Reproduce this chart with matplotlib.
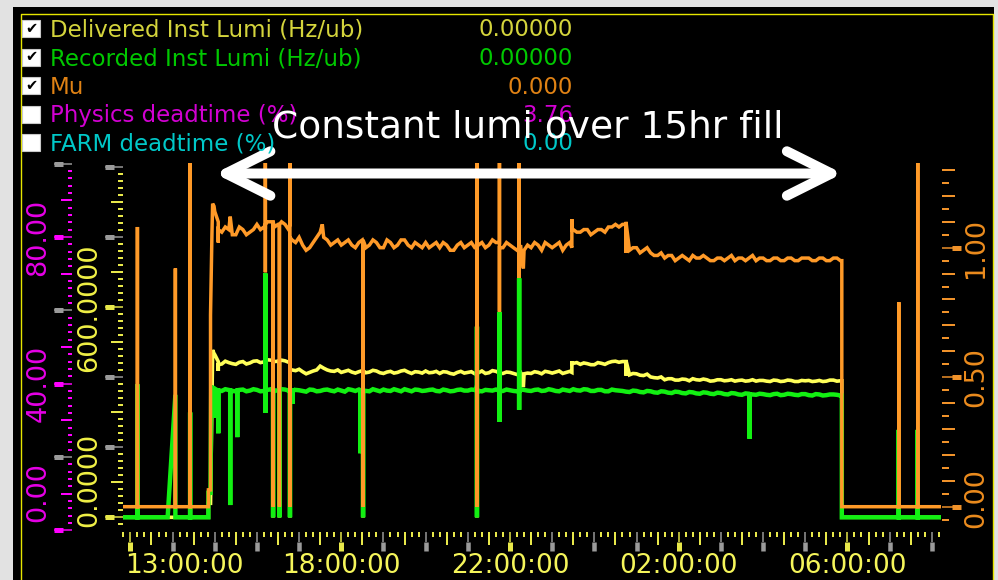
import numpy as np
import matplotlib
matplotlib.use("Agg")
import matplotlib.pyplot as plt
from matplotlib.patches import Rectangle
from matplotlib.transforms import blended_transform_factory

# ---------------- data ----------------
fill_start = "15:00"      # first regular sample of the fill (on the hour/10 min)
fill_mid_start = "15:05"  # interleaved readings 5 min later
fill_step_min = 10

mu_fill = [
    1.14, 1.06, 1.07, 1.05, 1.07, 1.06,
    1.09, 1.08, 1.10, 1.09, 1.09, 1.03,
    1.04, 0.99, 1.02, 1.06, 1.03, 1.02,
    1.01, 1.03, 1.00, 1.03, 1.01, 1.02,
    1.00, 1.02, 1.01, 1.03, 1.00, 1.01,
    1.02, 1.01, 1.00, 1.01, 0.99, 1.02,
    1.01, 1.00, 1.02, 1.01, 1.02, 1.00,
    1.01, 0.99, 0.99, 1.00, 1.01, 1.02,
    1.00, 1.02, 1.01, 1.07, 1.06, 1.07,
    1.06, 1.07, 1.08, 1.09, 1.09, 0.99,
    1.00, 0.99, 0.98, 0.97, 0.96, 0.97,
    0.96, 0.96, 0.97, 0.96, 0.96, 0.95,
    0.96, 0.96, 0.95, 0.96, 0.96, 0.95,
    0.96, 0.95, 0.96, 0.95, 0.96, 0.95,
    0.96, 0.95, 0.96, 0.95, 0.96, 0.95,
]
mu_mid = [
    1.07, 1.08, 1.05, 1.08, 1.05, 1.07,
    1.07, 1.10, 1.08, 1.10, 1.07, 1.02,
    1.01, 1.00, 1.04, 1.04, 1.01, 1.03,
    1.02, 1.01, 1.02, 1.00, 1.03, 1.00,
    1.03, 1.00, 1.03, 1.01, 1.02, 1.00,
    1.00, 1.02, 1.02, 0.99, 1.01, 1.00,
    1.02, 1.01, 1.00, 1.03, 1.00, 1.02,
    1.00, 1.01, 1.01, 1.02, 0.99, 1.01,
    1.01, 0.99, 1.02, 1.06, 1.07, 1.05,
    1.07, 1.06, 1.08, 1.08, 1.10, 1.00,
    0.98, 1.00, 0.97, 0.98, 0.97, 0.95,
    0.97, 0.95, 0.96, 0.97, 0.95, 0.96,
    0.95, 0.97, 0.96, 0.95, 0.97, 0.96,
    0.95, 0.96, 0.95, 0.96, 0.95, 0.96,
    0.96, 0.95, 0.96, 0.95, 0.96,
]
delivered_fill = [
    465, 438, 442, 437, 445, 441,
    447, 444, 449, 446, 447, 421,
    423, 410, 418, 432, 421, 417,
    414, 420, 412, 419, 415, 418,
    411, 417, 414, 420, 411, 415,
    418, 414, 411, 415, 409, 417,
    414, 410, 418, 413, 417, 411,
    414, 408, 410, 411, 414, 417,
    412, 418, 414, 440, 437, 439,
    436, 440, 442, 446, 445, 407,
    410, 405, 401, 398, 393, 396,
    392, 394, 396, 392, 393, 390,
    393, 391, 389, 392, 390, 389,
    391, 388, 391, 389, 391, 388,
    390, 388, 391, 389, 392, 390,
]
delivered_mid = [
    436, 446, 439, 443, 438, 446,
    442, 450, 445, 449, 443, 419,
    416, 414, 421, 426, 418, 421,
    417, 415, 416, 413, 420, 413,
    415, 412, 418, 415, 416, 412,
    413, 417, 416, 411, 414, 412,
    416, 413, 411, 419, 412, 415,
    411, 413, 412, 416, 410, 415,
    415, 411, 417, 442, 441, 436,
    442, 437, 445, 443, 448, 411,
    406, 409, 399, 401, 396, 392,
    395, 390, 393, 395, 389, 393,
    390, 393, 391, 389, 393, 391,
    389, 392, 388, 392, 388, 391,
    391, 389, 388, 392, 389,
]
recorded_fill = [
    366, 361, 364, 360, 365, 362,
    364, 361, 366, 363, 365, 360,
    363, 359, 364, 361, 365, 360,
    362, 366, 361, 364, 360, 363,
    365, 361, 363, 366, 360, 364,
    362, 365, 360, 363, 361, 365,
    362, 364, 360, 363, 365, 361,
    363, 360, 364, 361, 365, 362,
    364, 360, 363, 366, 362, 365,
    361, 364, 360, 363, 361, 358,
    361, 357, 360, 356, 359, 355,
    358, 354, 357, 353, 356, 352,
    355, 351, 354, 350, 353, 350,
    352, 349, 353, 350, 352, 349,
    352, 348, 351, 349, 351, 348,
]
recorded_mid = [
    363, 366, 361, 364, 360, 366,
    360, 364, 361, 366, 362, 364,
    361, 365, 360, 364, 362, 365,
    359, 364, 365, 361, 366, 360,
    362, 366, 360, 363, 365, 361,
    364, 361, 365, 360, 364, 362,
    365, 361, 364, 362, 360, 365,
    361, 365, 362, 364, 361, 366,
    361, 365, 361, 363, 366, 361,
    364, 360, 365, 362, 359, 362,
    358, 361, 357, 360, 356, 359,
    355, 358, 354, 357, 353, 356,
    352, 355, 351, 354, 351, 353,
    350, 352, 349, 353, 350, 352,
    349, 352, 348, 351, 350,
]

# irregular readings (before / after the fill, spikes and drop-outs)
mu_events = [
    ("12:50", [0.0]), ("13:10", [0.0, 1.08, 0.0]), ("14:04", [0.0, 0.92, 0.0]),
    ("14:25", [0.0, 1.40, 0.0]), ("14:51", [0.0, 0.065]), ("14:54", [0.065, 0.74]),
    ("14:56", [1.05]), ("14:57", [1.17]), ("14:59", [1.16]),
    ("15:05", [1.10, 1.02]), ("15:22", [1.12]),
    ("16:12", [1.08, 1.40, 0.905, 1.09]), ("16:23", [1.10, 0.0, 1.10]),
    ("16:32", [1.09, 0.0, 1.09]), ("16:47", [1.09, 1.40, 0.0, 1.04]),
    ("17:33", [1.09]), ("18:31", [1.02, 0.0, 1.03]),
    ("21:13", [1.00, 1.40, 0.0, 1.01]), ("21:45", [1.02, 1.40, 0.753, 1.01]),
    ("22:13", [1.00, 1.40, 0.883, 0.99]), ("22:19", [0.92]),
    ("23:28", [1.00, 1.11, 1.07]), ("00:45", [1.09, 0.98]),
    ("05:52", [0.95, 0.0]),
    ("07:13", [0.0, 0.79, 0.0]), ("07:40", [0.0, 1.40, 0.0]), ("08:13", [0.0]),
]
delivered_events = [
    ("12:50", [0]), ("14:51", [0, 40]), ("14:54", [40]), ("14:57", [478]), ("14:59", [468]),
    ("15:05", [445, 418]), ("16:23", [448, 0, 447]), ("16:32", [446, 0, 447]),
    ("16:47", [447, 0, 423]), ("18:31", [418, 0, 419]), ("21:13", [410, 0, 412]),
    ("22:19", [372]), ("23:28", [414, 446, 440]), ("00:45", [445, 405]),
    ("05:52", [390, 0]), ("08:13", [0]),
]
recorded_events = [
    ("12:50", [0]), ("13:10", [0, 380, 0]), ("13:53", [0]), ("14:04", [350, 0]),
    ("14:25", [0, 300, 0]), ("14:51", [0, 70]), ("14:54", [70]), ("14:55", [372]),
    ("14:58", [370, 284, 368]),
    ("15:05", [362, 240]), ("15:22", [363, 35, 362]), ("15:32", [361, 229, 363]),
    ("16:12", [363, 697, 298, 362]), ("16:23", [364, 0, 363]), ("16:32", [363, 0, 364]),
    ("16:47", [362, 0, 361]), ("16:51", [361, 325, 362]),
    ("18:27", [362, 183, 363]), ("18:31", [363, 0, 362]),
    ("21:13", [362, 545, 0, 364]), ("21:45", [362, 587, 273, 363]),
    ("22:13", [361, 683, 307, 362]), ("03:41", [352, 224, 351]),
    ("05:52", [348, 0]), ("07:13", [0, 250, 0]), ("07:40", [0, 250, 0]), ("08:13", [0]),
]

legend_names = ["Delivered Inst Lumi (Hz/ub)", "Recorded Inst Lumi (Hz/ub)", "Mu",
                "Physics deadtime (%)", "FARM deadtime (%)"]
legend_values = ["0.00000", "0.00000", "0.000", "3.76", "0.00"]
legend_checked = [True, True, True, False, False]
legend_colors = ["#d4d43c", "#00c800", "#e08214", "#d200d2", "#00c8c8"]

time_ticks = ["13:00", "18:00", "22:00", "02:00", "06:00"]
time_labels = ["13:00:00", "18:00:00", "22:00:00", "02:00:00", "06:00:00"]
lumi_ticks, lumi_labels = [0, 600], ["0.0000", "600.0000"]
dead_ticks, dead_labels = [0, 40, 80], ["0.00", "40.00", "80.00"]
mu_ticks, mu_labels = [0.0, 0.5, 1.0], ["0.00", "0.50", "1.00"]
note_text = "Constant lumi over 15hr fill"
fill_span = ("15:00", "05:53")


# ---------------- helpers ----------------
def to_min(s):
    h, m = map(int, s.split(":"))
    v = h * 60 + m
    return v + 1440 if h < 12 else v


def build(grids, events):
    pts = []
    for start, vals in grids:
        t0 = to_min(start)
        for i, v in enumerate(vals):
            pts.append((t0 + i * fill_step_min, 1, 0, v))
    for s, vals in events:
        t = to_min(s)
        for j, v in enumerate(vals):
            pts.append((t, 0, j, v))
    pts.sort(key=lambda p: (p[0], p[1], p[2]))
    return np.array([p[0] for p in pts], float), np.array([p[3] for p in pts], float)


W, H = 998, 580
PT = 72.0 / 100.0


def fx(px):
    return px / W


def fy(py):
    return 1 - py / H


fig = plt.figure(figsize=(W / 100, H / 100), dpi=100, facecolor="#e2e2e2")

# black panel and yellow frame
fig.add_artist(Rectangle((fx(12.7), 0), fx(994) - fx(12.7), fy(6.7), transform=fig.transFigure,
                         facecolor="black", edgecolor="none", zorder=-10))
fig.add_artist(plt.Line2D([fx(20.7), fx(20.7), fx(992.7), fx(992.7)], [0, fy(14), fy(14), 0],
                          transform=fig.transFigure, color="#e6e600", lw=1.0, zorder=-9))

L, R, T, B = 123, 941, 163, 531
rect = [fx(L), fy(B), (R - L) / W, (B - T) / H]
XLIM = (769.5, 1933.1)
LUMI_LIM = (-39.14, 1012.3)
MU_LIM = (-0.0938, 1.327)
DEAD_LIM = (-0.19, 100.2)

ax = fig.add_axes(rect)
ax.set_facecolor("none")
axm = ax.twinx()
for a in (ax, axm):
    a.set_xlim(*XLIM)
    a.tick_params(left=False, right=False, bottom=False, top=False,
                  labelleft=False, labelright=False, labelbottom=False)
    for s in a.spines.values():
        s.set_visible(False)
ax.set_ylim(*LUMI_LIM)
axm.set_ylim(*MU_LIM)

tD, vD = build([(fill_start, delivered_fill), (fill_mid_start, delivered_mid)], delivered_events)
tR, vR = build([(fill_start, recorded_fill), (fill_mid_start, recorded_mid)], recorded_events)
tM, vM = build([(fill_start, mu_fill), (fill_mid_start, mu_mid)], mu_events)
ax.plot(tD, vD, color="#ffff5a", lw=2.6, solid_joinstyle="miter")
ax.plot(tR, vR, color="#12f012", lw=3.2, solid_joinstyle="miter")
axm.plot(tM, vM, color="#ff9a28", lw=2.5, solid_joinstyle="miter")


# ---------------- tick layers ----------------
def tick_layer(axis, side, lim, locs, offset_px, length_px, width_px, color):
    a = fig.add_axes(rect, zorder=1)
    a.patch.set_visible(False)
    for s in a.spines.values():
        s.set_visible(False)
    if axis == "y":
        a.set_xticks([])
        a.set_yticks(locs)
        a.set_ylim(*lim)
        a.set_xlim(*XLIM)
        a.yaxis.set_ticks_position(side)
        a.spines[side].set_position(("outward", offset_px * PT))
        a.tick_params(axis="y", direction="out", length=length_px * PT, width=width_px * PT,
                      color=color, labelleft=False, labelright=False)
    else:
        a.set_yticks([])
        a.set_xticks(locs)
        a.set_xlim(*lim)
        a.xaxis.set_ticks_position("bottom")
        a.spines["bottom"].set_position(("outward", offset_px * PT))
        a.tick_params(axis="x", direction="out", length=length_px * PT, width=width_px * PT,
                      color=color, labelbottom=False)
    return a


YEL, GRY, MAG, ORG = "#e8e84a", "#9a9a9a", "#ff00ff", "#f0922a"

# yellow (lumi) axis at plot left edge
tick_layer("y", "left", LUMI_LIM, [v for v in range(-20, 1001, 20) if v % 100 != 0], 0, 5, 2, YEL)
tick_layer("y", "left", LUMI_LIM, [100, 300, 500, 700, 900], 0, 12, 2, YEL)
tick_layer("y", "left", LUMI_LIM, [200, 400, 800, 1000], 0, 18, 1.5, GRY)
tick_layer("y", "left", LUMI_LIM, [200, 400, 800, 1000], 9, 9, 5, GRY)
tick_layer("y", "left", LUMI_LIM, lumi_ticks, 0, 18, 1.5, YEL)
tick_layer("y", "left", LUMI_LIM, lumi_ticks, 9, 9, 5, YEL)

# magenta (deadtime) axis further left
MO = 51.3
tick_layer("y", "left", DEAD_LIM, [v for v in range(0, 101, 2) if v % 10 != 0], MO, 4, 2, MAG)
tick_layer("y", "left", DEAD_LIM, [10, 30, 50, 70, 90], MO, 11, 2, MAG)
tick_layer("y", "left", DEAD_LIM, [20, 60, 100], MO, 18, 1.5, GRY)
tick_layer("y", "left", DEAD_LIM, [20, 60, 100], MO + 9, 9, 5, GRY)
tick_layer("y", "left", DEAD_LIM, dead_ticks, MO, 18, 1.5, MAG)
tick_layer("y", "left", DEAD_LIM, dead_ticks, MO + 9, 9, 5, MAG)

# orange (mu) axis on the right
tick_layer("y", "right", MU_LIM, [k * 0.05 for k in range(-1, 27) if k % 2 != 0], 0.7, 6.6, 2, ORG)
tick_layer("y", "right", MU_LIM, [k * 0.1 for k in range(0, 14) if k not in (0, 5, 10)], 0.7, 13.3, 2, ORG)
tick_layer("y", "right", MU_LIM, mu_ticks, 0.7, 19, 1.5, ORG)
tick_layer("y", "right", MU_LIM, mu_ticks, 10.7, 9, 5, ORG)

# time axis
lab_min = [to_min(s) for s in time_ticks]
tick_layer("x", "bottom", XLIM, [m for m in range(770, 1931, 10) if m % 30 != 0], 0.7, 5.3, 2, YEL)
tick_layer("x", "bottom", XLIM, [m for m in range(770, 1931, 10) if m % 30 == 0 and m % 60 != 0], 0.7, 13.3, 2, YEL)
hours = [m for m in range(780, 1931, 60) if m not in lab_min]
tick_layer("x", "bottom", XLIM, hours, 0.7, 10, 1.5, GRY)
tick_layer("x", "bottom", XLIM, hours, 10.7, 9, 4.5, GRY)
tick_layer("x", "bottom", XLIM, lab_min, 0.7, 10, 1.5, YEL)
tick_layer("x", "bottom", XLIM, lab_min, 10.7, 9, 5, YEL)

# ---------------- tick labels ----------------
axd = fig.add_axes(rect, zorder=0)
axd.set_ylim(*DEAD_LIM)
axd.axis("off")

LBL = 19.5
XLBL = 19
XBASE = 573
tx = blended_transform_factory(ax.transData, fig.transFigure)
for i, (m, s) in enumerate(zip(lab_min, time_labels)):
    if i == 0:
        fig.text(fx(125), fy(XBASE), s, ha="left", va="baseline", fontsize=XLBL, color="#f5f55a")
    else:
        fig.text(m, fy(XBASE), s, ha="center", va="baseline", fontsize=XLBL, color="#f5f55a",
                 transform=tx)


def ylabels(axis, vals, labs, xc, color, bottom_px):
    tr = blended_transform_factory(fig.transFigure, axis.transData)
    for v, s in zip(vals, labs):
        if v == 0:
            fig.text(fx(xc), fy(bottom_px), s, rotation=90, ha="center", va="bottom",
                     fontsize=LBL, color=color)
        else:
            fig.text(fx(xc), v, s, rotation=90, ha="center", va="center", fontsize=LBL,
                     color=color, transform=tr)


ylabels(axd, dead_ticks, dead_labels, 38.5, "#e600e6", 522)
ylabels(ax, lumi_ticks, lumi_labels, 89, "#f0f046", 527)
ylabels(axm, mu_ticks, mu_labels, 976.5, "#ec8c1e", 528)

# ---------------- legend ----------------
for i, (name, val, chk, col) in enumerate(zip(legend_names, legend_values, legend_checked, legend_colors)):
    yc = 28.5 + i * 28.5
    fig.add_artist(Rectangle((fx(22), fy(yc + 8.5)), 18 / W, 17 / H, transform=fig.transFigure,
                             facecolor="white", edgecolor="#c8c8c8", lw=0.8, zorder=2))
    if chk:
        fig.text(fx(31), fy(yc), "\u2714", ha="center", va="center", fontsize=10.5,
                 color="black", zorder=3)
    fig.text(fx(50), fy(yc + 8), name, ha="left", va="baseline", fontsize=16.5, color=col, zorder=3)
    fig.text(fx(573), fy(yc + 8), val, ha="right", va="baseline", fontsize=16.5, color=col, zorder=3)

# ---------------- annotation ----------------
fig.text(fx(528), fy(138), note_text, ha="center", va="baseline", fontsize=27,
         color="white", zorder=10)
axm.annotate("", xy=(to_min(fill_span[1]), 580 - 173.5), xytext=(to_min(fill_span[0]), 580 - 173.5),
             xycoords=("data", "figure pixels"), textcoords=("data", "figure pixels"),
             arrowprops=dict(arrowstyle="<->,head_length=0.4,head_width=0.2", color="white",
                             lw=7.2, mutation_scale=80, shrinkA=0, shrinkB=0,
                             capstyle="round", joinstyle="round"),
             annotation_clip=False, zorder=10)

fig.savefig("out.png", dpi=100, facecolor=fig.get_facecolor())
